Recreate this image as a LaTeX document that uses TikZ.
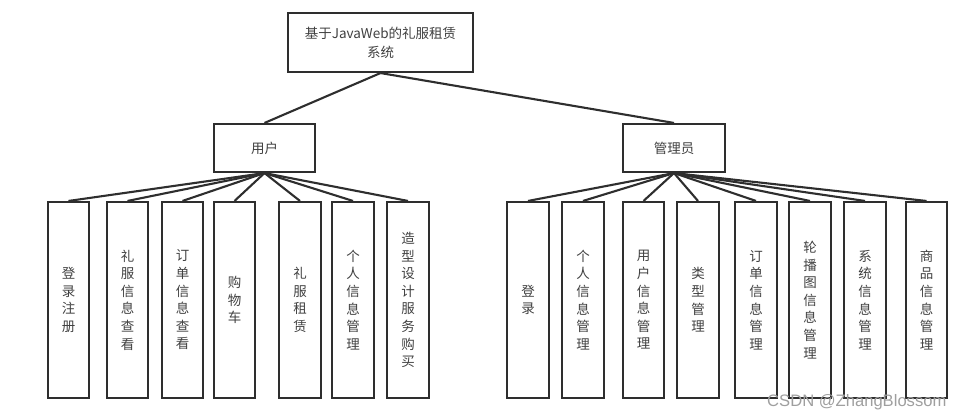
\documentclass[tikz,border=0pt]{standalone}
\usepackage{fontspec}
\setmainfont{Noto Sans CJK SC}
\newfontfamily\wmfont{Liberation Sans}
\begin{document}
\begin{tikzpicture}[x=1pt,y=-1pt,
  box/.style={draw=black!82, line width=2.1pt, inner sep=0pt, align=center, text=black!75,
    font=\fontsize{13.5}{17.6}\selectfont},
  conn/.style={draw=black!82, line width=2.1pt},
  leaf/.style={box, minimum height=196pt}]
\useasboundingbox (0,0) rectangle (964,420);
% top
\node[box, minimum width=185pt, minimum height=59pt, font=\fontsize{13.5}{19}\selectfont] (top) at (380.5,42.5) {基于JavaWeb的礼服租赁\\系统};
\node[box, minimum width=101pt, minimum height=48pt] (user) at (264.5,148) {用户};
\node[box, minimum width=102pt, minimum height=48pt] (admin) at (674,148) {管理员};
% user children
\node[leaf, minimum width=41pt] (u1) at (68.5,300) {登\\录\\注\\册};
\node[leaf, minimum width=41pt] (u2) at (127.5,300) {礼\\服\\信\\息\\查\\看};
\node[leaf, minimum width=41pt] (u3) at (182.5,300) {订\\单\\信\\息\\查\\看};
\node[leaf, minimum width=41pt] (u4) at (234.5,300) {购\\物\\车};
\node[leaf, minimum width=42pt] (u5) at (300,300) {礼\\服\\租\\赁};
\node[leaf, minimum width=42pt] (u6) at (353,300) {个\\人\\信\\息\\管\\理};
\node[leaf, minimum width=42pt] (u7) at (408,300) {造\\型\\设\\计\\服\\务\\购\\买};
% admin children
\node[leaf, minimum width=42pt] (a1) at (528,300) {登\\录};
\node[leaf, minimum width=42pt] (a2) at (583,300) {个\\人\\信\\息\\管\\理};
\node[leaf, minimum width=41pt] (a3) at (643.5,300) {用\\户\\信\\息\\管\\理};
\node[leaf, minimum width=42pt] (a4) at (698,300) {类\\型\\管\\理};
\node[leaf, minimum width=42pt] (a5) at (756,300) {订\\单\\信\\息\\管\\理};
\node[leaf, minimum width=42pt] (a6) at (810,300) {轮\\播\\图\\信\\息\\管\\理};
\node[leaf, minimum width=42pt] (a7) at (865,300) {系\\统\\信\\息\\管\\理};
\node[leaf, minimum width=41pt] (a8) at (926.5,300) {商\\品\\信\\息\\管\\理};
% connectors
\draw[conn] (top.south) -- (user.north);
\draw[conn] (top.south) -- (admin.north);
\foreach \c in {u1,u2,u3,u4,u5,u6,u7} \draw[conn] (user.south) -- (\c.north);
\foreach \c in {a1,a2,a3,a4,a5,a6,a7,a8} \draw[conn] (admin.south) -- (\c.north);
% watermark
\node[anchor=west, inner sep=0pt, text=gray!75, font=\wmfont\fontsize{16.6}{16.6}\selectfont] (wm) at (767,402) {CSDN @ZhangBlossom};
\end{tikzpicture}
\end{document}
